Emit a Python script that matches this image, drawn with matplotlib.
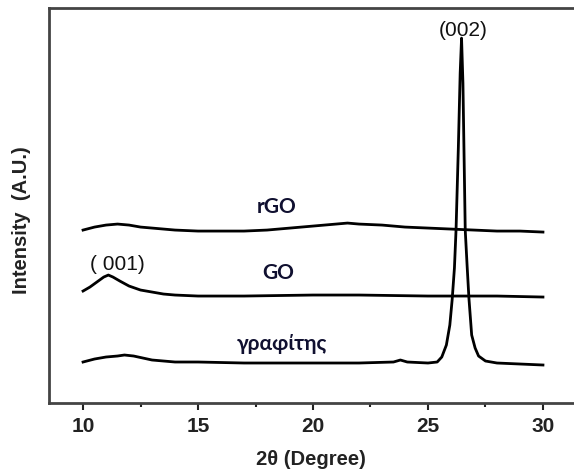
import numpy as np
import matplotlib.pyplot as plt

# valeurs (intensite en unites arbitraires)
x_rgo = [10, 10.5, 11, 11.5, 12, 12.5, 13, 14, 15, 16, 17, 18, 19, 20, 21, 21.5, 22, 23, 24, 25, 26, 27, 28, 29, 30]
y_rgo = [173, 176, 178, 179, 178, 176, 175, 173, 172, 172, 172, 173, 175, 177, 179, 180, 179, 178, 176, 175, 174, 173, 172, 172, 171]

x_go = [10, 10.3, 10.6, 10.9, 11.1, 11.3, 11.6, 12, 12.5, 13, 13.5, 14, 15, 17, 20, 22, 25, 28, 30]
y_go = [112, 116, 121, 126, 128, 126, 122, 117, 113, 111, 109, 108, 107, 107, 108, 108, 107, 107, 106]

x_gr = [10, 10.5, 11, 11.5, 11.8, 12.2, 12.6, 13, 13.5, 14, 15, 17, 20, 22, 23.5, 23.8, 24.1, 25, 25.4, 25.6, 25.8, 25.95,
        26.05, 26.15, 26.22, 26.32, 26.4, 26.46, 26.52, 26.62, 26.7, 26.78, 26.9, 27.05, 27.2, 27.5, 28, 29, 30]
y_gr = [41, 44, 46, 47, 48, 47, 45, 43, 42, 41, 41, 40, 40, 40, 41, 43, 41, 40, 41, 46, 58, 78,
        103, 135, 173, 255, 330, 365, 320, 173, 138, 105, 68, 55, 47, 42, 40, 39, 38]

fig = plt.figure(figsize=(5.74, 4.74), dpi=100)
ax = fig.add_axes([0.0854, 0.1498, 0.9126, 0.833])

for xs, ys in [(x_rgo, y_rgo), (x_go, y_go), (x_gr, y_gr)]:
    ax.plot(xs, ys, color='black', lw=2)

ax.set_xlim(8.52, 31.3)
ax.set_ylim(0, 395)
ax.set_yticks([])
ax.set_xticks([10, 15, 20, 25, 30])
ax.set_xticks([12.5, 17.5, 22.5, 27.5], minor=True)
ax.tick_params(axis='x', which='major', direction='out', length=5, width=1.5, colors='#222222', pad=5)
ax.tick_params(axis='x', which='minor', direction='out', length=3, width=1.5, colors='#222222')
for lab in ax.get_xticklabels():
    lab.set_fontweight('bold')
    lab.set_fontsize(15)
    lab.set_family('Liberation Sans')
    lab.set_color('#222222')
for s in ['left', 'bottom', 'top']:
    ax.spines[s].set_linewidth(2)
    ax.spines[s].set_color('#444444')
ax.spines['right'].set_visible(False)

ax.set_xlabel('2θ (Degree)', fontsize=14.5, fontweight='bold', family='Liberation Sans', color='#222222', labelpad=10)
fig.text(0.038, 0.535, 'Intensity  (A.U.)', rotation=90, ha='center', va='center',
         fontsize=14.5, fontweight='bold', family='Liberation Sans', color='#222222')

txt = dict(family='Lato', fontsize=15, fontweight='bold', color='#101030', ha='center', va='center')
ax.text(18.4, 403 - 207, 'rGO', **txt)
ax.text(18.5, 403 - 273, 'GO', **txt)
ax.text(18.65, 403 - 344, 'γραφίτης', **txt)
ax.text(11.5, 403 - 264, '( 001)', family='Liberation Sans', fontsize=15, ha='center', va='center', color='#111111')
ax.text(26.55, 403 - 30, '(002)', family='Liberation Sans', fontsize=15, ha='center', va='center', color='#111111')

fig.savefig('out.png')
